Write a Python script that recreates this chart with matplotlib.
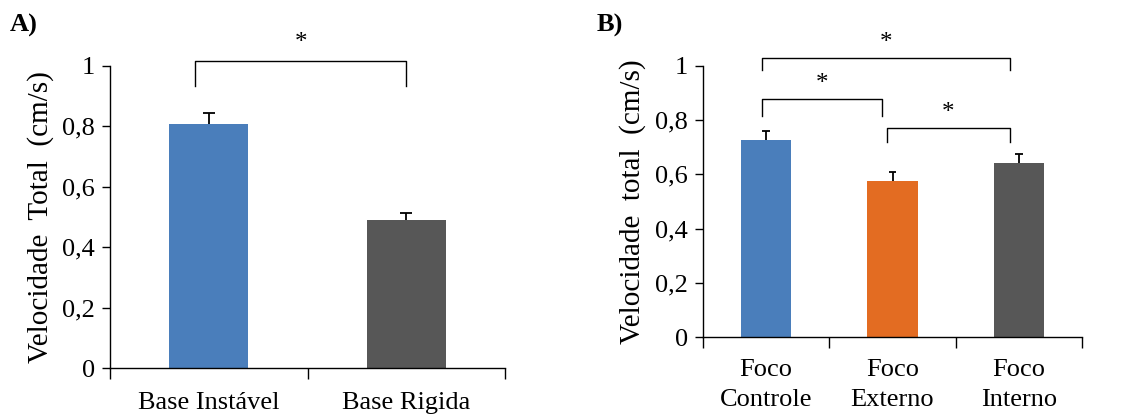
import numpy as np
import matplotlib.pyplot as plt
from matplotlib.ticker import FuncFormatter

plt.rcParams['font.family'] = ['Liberation Serif', 'DejaVu Serif']

# Panel A data
cats_a = ["Base Instável", "Base Rigida"]
means_a = [0.808, 0.490]
err_a = [0.037, 0.023]
colors_a = ["#4a7ebb", "#575757"]

# Panel B data
cats_b = ["Foco\nControle", "Foco\nExterno", "Foco\nInterno"]
means_b = [0.727, 0.576, 0.641]
err_b = [0.034, 0.032, 0.033]
colors_b = ["#4a7ebb", "#e36c22", "#575757"]

yticks = [0, 0.2, 0.4, 0.6, 0.8, 1.0]


def fmt(v, pos):
    s = "%g" % round(v, 2)
    return s.replace(".", ",")


def style_axes(ax, n, xpad):
    ax.spines["top"].set_visible(False)
    ax.spines["right"].set_visible(False)
    ax.spines["left"].set_bounds(0, 1)
    ax.set_ylim(0, 1)
    ax.set_xlim(-0.5, n - 0.5)
    ax.set_yticks(yticks)
    ax.yaxis.set_major_formatter(FuncFormatter(fmt))
    ax.tick_params(axis="y", length=6, width=1, labelsize=19, pad=5)
    # ticks at category boundaries, labels at centers
    ax.set_xticks(np.arange(-0.5, n, 1.0))
    ax.set_xticklabels([])
    ax.tick_params(axis="x", which="major", length=8, width=1, direction="out")
    ax.set_xticks(np.arange(n), minor=True)
    ax.tick_params(axis="x", which="minor", length=0, labelsize=19, pad=xpad)
    for sp in ["left", "bottom"]:
        ax.spines[sp].set_linewidth(1.0)


def err_bars(ax, x, means, errs):
    tops = np.array(means) + np.array(errs)
    ax.vlines(x, means, tops, color="black", lw=1.3)
    ax.hlines(tops, x - 0.03, x + 0.03, color="black", lw=1.3)


def bracket(ax, x1, x2, y, drop, star_y):
    ax.plot([x1, x1, x2, x2], [y - drop, y, y, y - drop], color="black",
            lw=1.0, clip_on=False)
    ax.text((x1 + x2) / 2, star_y, "*", ha="center", va="center",
            fontsize=18, clip_on=False)


fig = plt.figure(figsize=(11.26, 4.19), dpi=100)

# ---- A ----
ax1 = fig.add_axes([0.0977, 0.1217, 0.3508, 0.7208])
x = np.arange(len(cats_a))
ax1.bar(x, means_a, width=0.4, color=colors_a)
err_bars(ax1, x, means_a, err_a)
style_axes(ax1, len(cats_a), 17)
ax1.set_xticklabels(cats_a, minor=True)
ax1.set_ylabel("Velocidade  Total  (cm/s)", fontsize=21, labelpad=6)
bracket(ax1, -0.07, 1.0, 1.017, 0.083, 1.075)

# ---- B ----
ax2 = fig.add_axes([0.6243, 0.1957, 0.3367, 0.6468])
x = np.arange(len(cats_b))
ax2.bar(x, means_b, width=0.4, color=colors_b)
err_bars(ax2, x, means_b, err_b)
style_axes(ax2, len(cats_b), 16)
ax2.set_xticklabels(cats_b, minor=True, linespacing=1.45)
ax2.set_ylabel("Velocidade  total  (cm/s)", fontsize=21, labelpad=6)
bracket(ax2, -0.03, 1.93, 1.028, 0.043, 1.085)
bracket(ax2, -0.03, 0.92, 0.877, 0.062, 0.935)
bracket(ax2, 0.955, 1.93, 0.770, 0.050, 0.828)

fig.text(0.009, 0.94, "A)", fontsize=19, fontweight="bold", va="center")
fig.text(0.530, 0.94, "B)", fontsize=19, fontweight="bold", va="center")

fig.savefig("out.png", dpi=100)
